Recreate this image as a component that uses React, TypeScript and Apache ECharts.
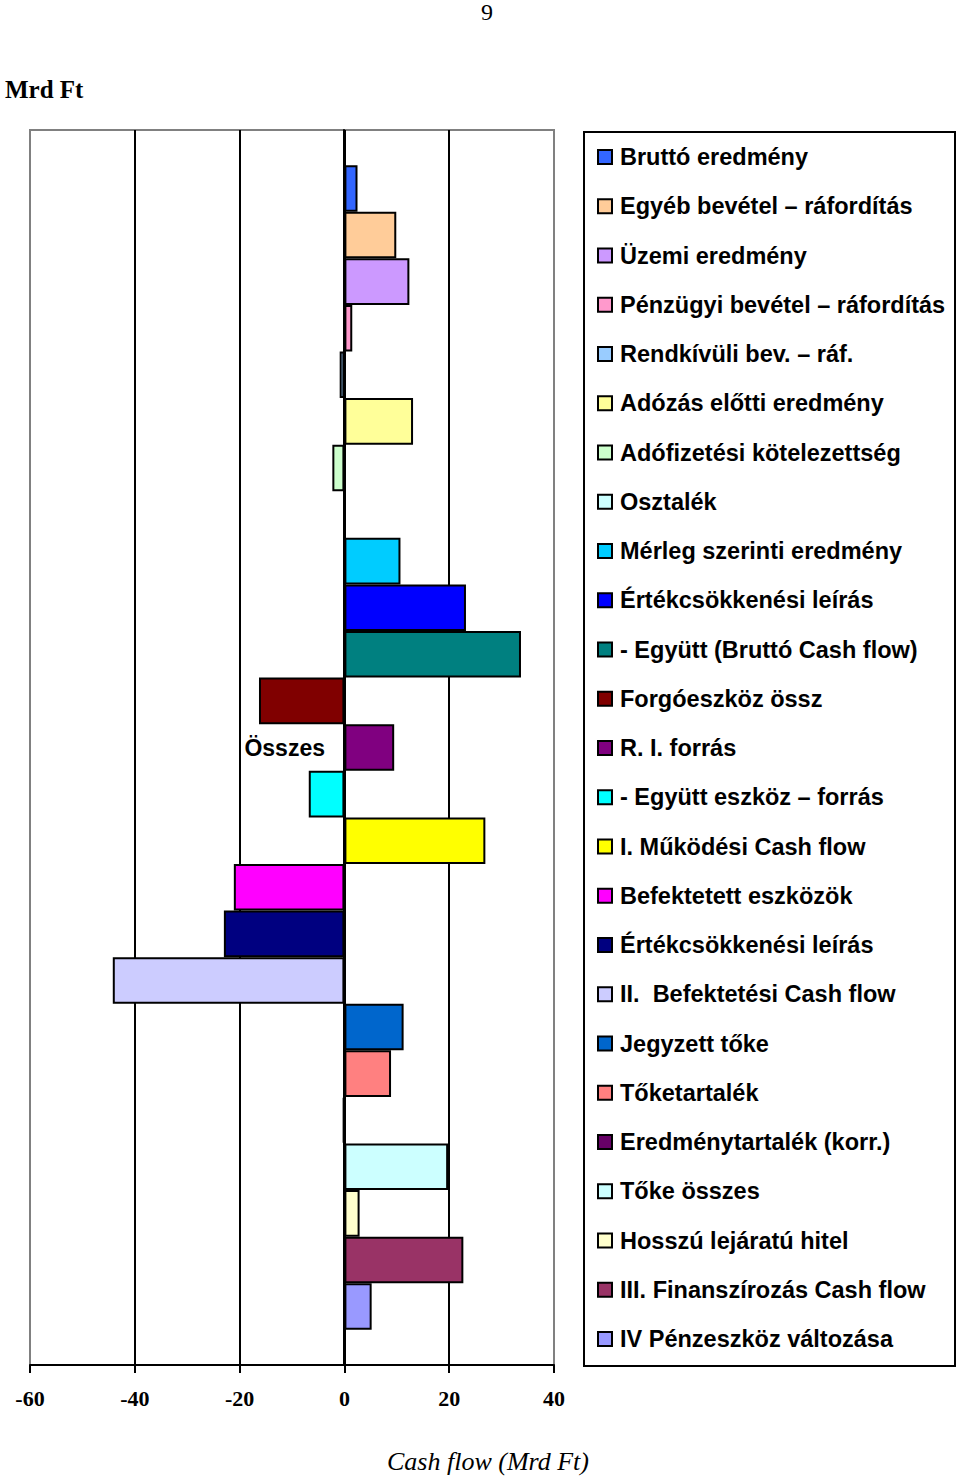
import React, { useEffect, useRef } from "react";
import * as echarts from "echarts";

const categories = ["Összes"];
const seriesNames = [
  "Bruttó eredmény",
  "Egyéb bevétel – ráfordítás",
  "Üzemi eredmény",
  "Pénzügyi bevétel – ráfordítás",
  "Rendkívüli bev. – ráf.",
  "Adózás előtti eredmény",
  "Adófizetési kötelezettség",
  "Osztalék",
  "Mérleg szerinti eredmény",
  "Értékcsökkenési leírás",
  "- Együtt (Bruttó Cash flow)",
  "Forgóeszköz össz",
  "R. I. forrás",
  "- Együtt eszköz – forrás",
  "I. Működési Cash flow",
  "Befektetett eszközök",
  "Értékcsökkenési leírás ",
  "II.  Befektetési Cash flow",
  "Jegyzett tőke",
  "Tőketartalék",
  "Eredménytartalék (korr.)",
  "Tőke összes",
  "Hosszú lejáratú hitel",
  "III. Finanszírozás Cash flow",
  "IV Pénzeszköz változása",
];
const seriesValues = [
  2.5, 9.9, 12.4, 1.5, -0.9, 13.1, -2.3, -0.1, 10.7, 23.2, 33.7, -16.3, 9.5,
  -6.8, 26.9, -21.1, -23.0, -44.2, 11.3, 8.9, -0.3, 19.8, 2.9, 22.7, 5.2,
];
const seriesColors = [
  "#3366FF", "#FFCC99", "#CC99FF", "#FF99CC", "#99CCFF", "#FFFF99", "#CCFFCC",
  "#CCFFFF", "#00CCFF", "#0000FF", "#008080", "#800000", "#800080", "#00FFFF",
  "#FFFF00", "#FF00FF", "#000080", "#CCCCFF", "#0066CC", "#FF8080", "#660066",
  "#CCFFFF", "#FFFFCC", "#993366", "#9999FF",
];
const xTicks = { min: -60, max: 40, interval: 20 };

export default function App() {
  const ref = useRef<HTMLDivElement>(null);
  useEffect(() => {
    if (!ref.current) return;
    const chart = echarts.init(ref.current, null, { renderer: "svg" });
    const option: any = {
      animation: false,
      backgroundColor: "#ffffff",
      grid: {
        left: 30,
        top: 130,
        width: 524,
        height: 1235,
        containLabel: false,
        outerBoundsMode: "none",
        show: true,
        borderColor: "#808080",
        borderWidth: 2,
        backgroundColor: "transparent",
      },
      xAxis: {
        type: "value",
        min: xTicks.min,
        max: xTicks.max,
        interval: xTicks.interval,
        axisLine: { show: true, onZero: false, lineStyle: { color: "#000", width: 2 } },
        axisTick: { show: true, length: 8, lineStyle: { color: "#000", width: 2 } },
        axisLabel: {
          margin: 22,
          fontFamily: "Liberation Serif",
          fontWeight: "bold",
          fontSize: 22,
          color: "#000",
        },
        splitLine: {
          show: true,
          lineStyle: {
            color: ["#808080", "#000", "#000", "#000", "#000", "#808080"],
            width: 2,
          },
        },
      },
      yAxis: {
        type: "category",
        data: categories,
        offset: -314,
        axisLine: { show: true, onZero: false, lineStyle: { color: "#000", width: 2 } },
        axisTick: { show: false },
        axisLabel: {
          margin: 19,
          fontFamily: "Liberation Sans",
          fontWeight: "bold",
          fontSize: 23,
          color: "#000",
        },
      },
      legend: {
        orient: "vertical",
        left: 592,
        top: 140,
        padding: 5,
        itemWidth: 14,
        itemHeight: 14,
        itemGap: 25.25,
        icon: "rect",
        textStyle: {
          fontFamily: "Liberation Sans",
          fontWeight: "bold",
          fontSize: 23.5,
          lineHeight: 23.5,
          color: "#000",
          padding: [0, 0, 0, 3],
        },
        data: seriesNames.map((n) => ({ name: n })),
      },
      graphic: [
        {
          type: "rect",
          shape: { x: 584, y: 132, width: 371, height: 1234 },
          style: { fill: "none", stroke: "#000", lineWidth: 2 },
        },
        {
          type: "text",
          x: 487,
          y: 12,
          style: {
            text: "9",
            fontFamily: "Liberation Serif",
            fontSize: 24,
            fill: "#000",
            align: "center",
            verticalAlign: "middle",
          },
        },
        {
          type: "text",
          x: 5,
          y: 89,
          style: {
            text: "Mrd Ft",
            fontFamily: "Liberation Serif",
            fontWeight: "bold",
            fontSize: 25,
            fill: "#000",
            align: "left",
            verticalAlign: "middle",
          },
        },
        {
          type: "text",
          x: 488,
          y: 1461,
          style: {
            text: "Cash flow (Mrd Ft)",
            fontFamily: "Liberation Serif",
            fontStyle: "italic",
            fontSize: 26,
            fill: "#000",
            align: "center",
            verticalAlign: "middle",
          },
        },
      ],
      series: seriesNames.map((name, i) => ({
        type: "bar",
        name,
        data: [seriesValues[i]],
        barGap: "0%",
        barCategoryGap: "5.7%",
        itemStyle: { color: seriesColors[i], borderColor: "#000", borderWidth: 2 },
      })),
    };
    chart.setOption(option);
    return () => chart.dispose();
  }, []);
  return (
    <div
      ref={ref}
      style={{ position: "absolute", left: 0, top: 0, width: 960, height: 1477 }}
    />
  );
}
